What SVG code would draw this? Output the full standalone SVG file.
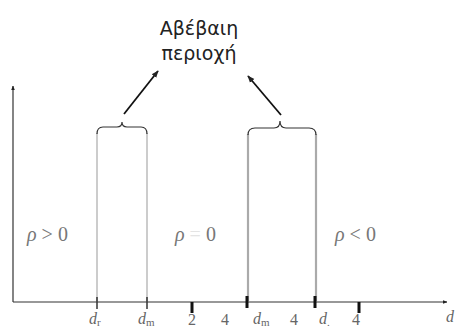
<svg xmlns="http://www.w3.org/2000/svg" width="457" height="331" viewBox="0 0 457 331">
<defs>
<style>
.ax{stroke:#333;stroke-width:1.2;fill:none}
.thin{stroke:#aaa;stroke-width:1.2;fill:none}
.thick{stroke:#aaa;stroke-width:2.2;fill:none}
.brace{stroke:#333;stroke-width:1.2;fill:none}
.arr{stroke:#111;stroke-width:1.8;fill:none}
.tk{stroke:#111;stroke-width:3}
.tks{stroke:#333;stroke-width:1.5}
.lab{font-family:"Liberation Serif",serif;font-size:16px;fill:#666}
.reg{font-family:"Liberation Serif",serif;font-size:20px;fill:#777}
.it{font-style:italic}
.gr{font-family:"DejaVu Sans","Noto Sans",sans-serif;font-size:19px;fill:#222}
</style>
<marker id="ah" viewBox="0 0 10 10" refX="9" refY="5" markerWidth="4" markerHeight="4" orient="auto"><path d="M0,1 L10,5 L0,9 z" fill="#222"/></marker>
</defs>
<g id="axes">
<line class="ax" x1="13" y1="302" x2="13" y2="86" marker-end="url(#ah)"/>
<line class="ax" x1="13" y1="302" x2="447" y2="302" marker-end="url(#ah)"/>
</g>
<g id="bounds">
<line class="thin" x1="97" y1="133" x2="97" y2="302"/>
<line class="thin" x1="147" y1="133" x2="147" y2="302"/>
<line class="thick" x1="248" y1="134" x2="248" y2="302"/>
<line class="thick" x1="316" y1="134" x2="316" y2="302"/>
</g>
<g id="braces">
<path class="brace" d="M97,134 Q97,127 103,127 L117,127 Q122,127 122,122 Q122,127 127,127 L141,127 Q147,127 147,134"/>
<path class="brace" d="M248,135 Q248,128 255,128 L274,128 Q280,128 280,121 Q280,128 286,128 L309,128 Q316,128 316,135"/>
</g>
<g id="connectors">
<line class="arr" x1="124" y1="114" x2="158" y2="71" marker-end="url(#ah)"/>
<line class="arr" x1="281" y1="115" x2="248" y2="76" marker-end="url(#ah)"/>
</g>
<g id="ticks">
<line class="tks" x1="97" y1="297" x2="97" y2="309"/>
<line class="tks" x1="147" y1="297" x2="147" y2="309"/>
<line class="tk" x1="192" y1="302" x2="192" y2="313"/>
<line class="tk" x1="247" y1="296" x2="247" y2="308"/>
<line class="tk" x1="315" y1="296" x2="315" y2="308"/>
<line class="tk" x1="359" y1="302" x2="359" y2="313"/>
</g>
<g id="label">
<text class="gr" x="199" y="35" text-anchor="middle">Αβέβαιη</text>
<text class="gr" x="199" y="60" text-anchor="middle">περιοχή</text>
</g>
<g id="regions">
<text class="reg" x="27" y="241"><tspan class="it">ρ</tspan> &gt; 0</text>
<text class="reg" x="175" y="241"><tspan class="it">ρ</tspan> <tspan fill="#e4e4e4">=</tspan> 0</text>
<text class="reg" x="335" y="241"><tspan class="it">ρ</tspan> &lt; 0</text>
</g>
<g id="xlabels">
<text class="lab" x="89" y="324"><tspan class="it">d</tspan><tspan font-size="11" dy="2">r</tspan></text>
<text class="lab" x="138" y="324"><tspan class="it">d</tspan><tspan font-size="11" dy="2">m</tspan></text>
<text class="lab" x="188" y="325">2</text>
<text class="lab" x="221" y="325">4</text>
<text class="lab" x="253" y="324"><tspan class="it">d</tspan><tspan font-size="11" dy="2">m</tspan></text>
<text class="lab" x="290" y="325">4</text>
<text class="lab" x="319" y="324"><tspan class="it">d</tspan><tspan font-size="11" dy="2">.</tspan></text>
<text class="lab" x="352" y="325" fill="#4a6a9a">4</text>
<text class="lab it" x="446" y="322">d</text>
</g>
</svg>
